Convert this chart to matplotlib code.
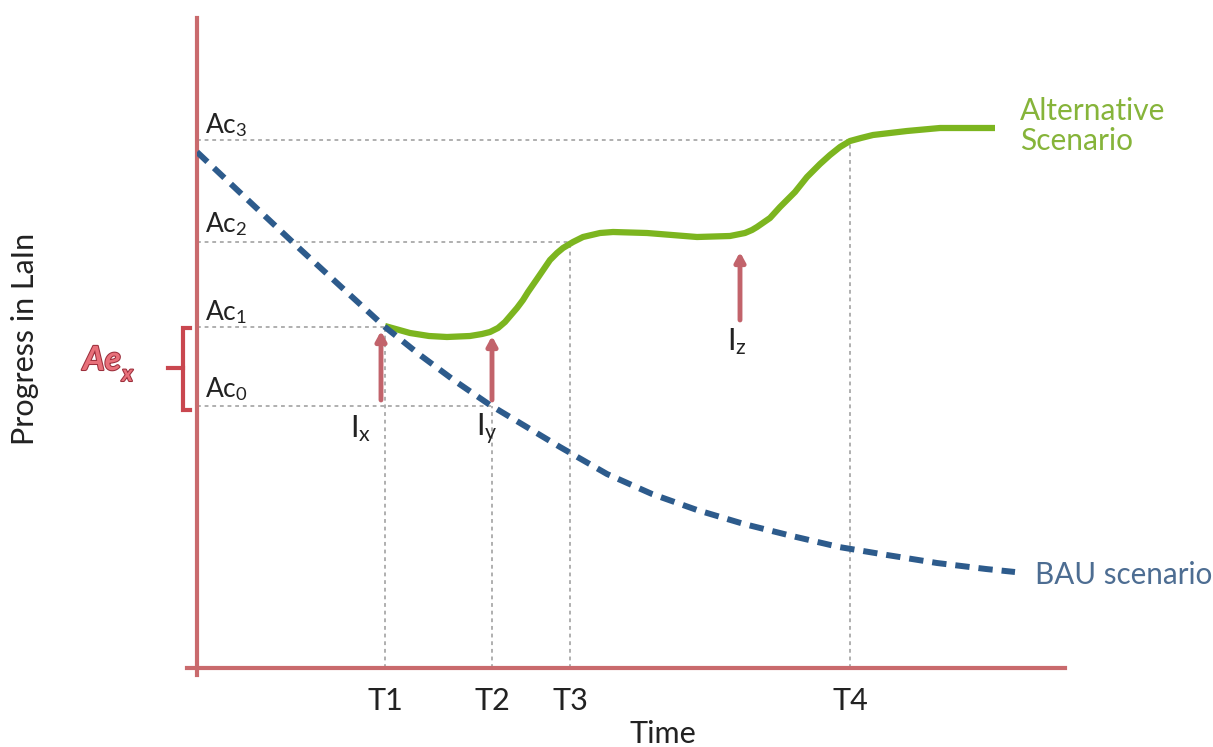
import matplotlib
matplotlib.use("Agg")
import matplotlib.pyplot as plt
import matplotlib.patheffects as pe

plt.rcParams['font.family'] = ['Lato', 'DejaVu Sans']
plt.rcParams['mathtext.fontset'] = 'custom'
plt.rcParams['mathtext.rm'] = 'Lato'
plt.rcParams['mathtext.it'] = 'Lato:italic'
plt.rcParams['mathtext.bf'] = 'Lato:bold'

# BAU scenario (dashed)
bau_t = [0, 5.3, 10.3, 15.3, 18.8, 22.3, 25.8, 29.3, 32.8, 36.3, 41.0, 45.5,
         50.0, 54.7, 59.5, 64.2, 69.0, 74.0, 78.9, 81.8]
bau_p = [51.6, 46.6, 41.9, 37.3, 34.1, 31.3, 28.7, 26.3, 24.2, 22.1, 19.4, 17.4,
         15.8, 14.4, 13.2, 12.1, 11.3, 10.5, 9.9, 9.6]

# Alternative scenario (solid)
alt_t = [18.8, 21.3, 23.2, 25.0, 27.3, 28.5, 29.3, 30.1, 30.8, 31.4, 32.0, 32.6,
         33.1, 34.0, 35.3, 36.0, 36.6, 37.6, 38.6, 40.3, 41.6, 45.0, 50.0, 53.3,
         54.8, 55.5, 56.0, 57.3, 58.3, 59.8, 61.0, 62.3, 63.3, 64.3, 65.3, 66.4,
         67.6, 69.3, 71.0, 74.3, 79.8]
alt_p = [34.2, 33.5, 33.2, 33.1, 33.2, 33.4, 33.6, 34.0, 34.6, 35.3, 36.0, 36.8,
         37.6, 38.9, 40.8, 41.5, 42.0, 42.6, 43.1, 43.5, 43.6, 43.5, 43.1, 43.2,
         43.5, 43.8, 44.1, 45.0, 46.1, 47.6, 49.1, 50.4, 51.3, 52.1, 52.7, 53.0,
         53.3, 53.5, 53.7, 54.0, 54.0]

# reference levels and times
t_names = ['T1', 'T2', 'T3', 'T4']
t_vals = [18.8, 29.5, 37.3, 65.3]
ac_names = ['0', '1', '2', '3']
ac_vals = [26.2, 34.1, 42.6, 52.8]
ac_ends = [29.5, 18.8, 37.3, 65.3]   # where each horizontal guide stops
t_tops = [34.1, 26.2, 42.6, 52.8]    # where each vertical guide stops

# interventions: name, time, arrow tail, arrow tip
int_names = ['x', 'y', 'z']
int_t = [18.4, 29.5, 54.3]
int_tail = [26.8, 26.8, 34.8]
int_tip = [33.7, 33.2, 41.6]

axis_col = '#c96a6d'
arrow_col = '#c2636b'
guide_col = '#9a9a9a'

fig = plt.figure(figsize=(12.13, 7.47), dpi=100)
ax = fig.add_axes([197 / 1213, 79 / 747, 868 / 1213, 648 / 747])
ax.set_xlim(0, 86.8)
ax.set_ylim(0, 64.8)
ax.axis('off')

# guides
for v, e in zip(ac_vals, ac_ends):
    ax.plot([0, e], [v, v], color=guide_col, lw=1.1, ls=(0, (2.5, 2.5)), zorder=1)
for t, top in zip(t_vals, t_tops):
    ax.plot([t, t], [0, top], color=guide_col, lw=1.1, ls=(0, (2.5, 2.5)), zorder=1)

# axes
ax.plot([-1.0, 86.8], [0, 0], color=axis_col, lw=3, clip_on=False, zorder=2)
ax.plot([0, 0], [-0.7, 65.0], color=axis_col, lw=3, clip_on=False, zorder=2)

# curves
ax.plot(alt_t, alt_p, color='#7cb51f', lw=4.5, solid_capstyle='butt',
        solid_joinstyle='round', zorder=3)
ax.plot(bau_t, bau_p, color='#2d5b8c', lw=4.3, dashes=(2.4, 1.5),
        dash_capstyle='butt', zorder=4)

# intervention arrows
for n, t, a, b in zip(int_names, int_t, int_tail, int_tip):
    ax.annotate('', xy=(t, b), xytext=(t, a),
                arrowprops=dict(arrowstyle='-|>,head_length=0.55,head_width=0.3',
                                color=arrow_col, lw=3.5, shrinkA=0, shrinkB=0),
                zorder=5)
label_pos = [(16.4, 23.9), (29.0, 23.9), (54.0, 32.6)]
for n, (x, y) in zip(int_names, label_pos):
    ax.text(x, y, r'I$_\mathrm{%s}$' % n, fontsize=22, ha='center', va='center',
            color='#222222')

# Ac labels
ac_base = [27.1, 34.8, 43.6, 53.5]
for n, y in zip(ac_names, ac_base):
    ax.text(0.8, y, r'Ac$_\mathrm{%s}$' % n, fontsize=19, ha='left',
            va='baseline', color='#222222')

# T labels
for n, t in zip(t_names, t_vals):
    ax.text(t, -3.3, n, fontsize=22, ha='center', va='center', color='#222222')
ax.text(46.6, -6.6, 'Time', fontsize=22, ha='center', va='center', color='#222222')
ax.text(-17.2, 32.9, 'Progress in LaIn', fontsize=22, rotation=90,
        ha='center', va='center', color='#222222')

# series labels
ax.text(82.3, 54.2, 'Alternative\nScenario', fontsize=21.5, ha='left', va='center',
        color='#86b43a', linespacing=1.05)
ax.text(83.8, 9.3, 'BAU scenario', fontsize=21.3, ha='left', va='center',
        color='#4d6d92')

# Ae_x bracket
br_col = '#c9474f'
ax.plot([-0.7, -1.4, -1.4, -0.7], [34.0, 34.0, 25.8, 25.8], color=br_col, lw=3,
        clip_on=False, solid_joinstyle='miter')
ax.plot([-2.9, -1.4], [30.0, 30.0], color=br_col, lw=3, clip_on=False)
fx = [pe.withStroke(linewidth=1.5, foreground='#9c2f3c')]
ax.text(-11.4, 29.8, 'Ae', fontsize=24, fontweight='bold', style='italic',
        color='#e8707a', ha='left', va='baseline', path_effects=fx)
ax.text(-7.5, 28.7, 'x', fontsize=16, fontweight='bold', style='italic',
        color='#e8707a', ha='left', va='baseline', path_effects=fx)

fig.savefig('out.png', dpi=100)
